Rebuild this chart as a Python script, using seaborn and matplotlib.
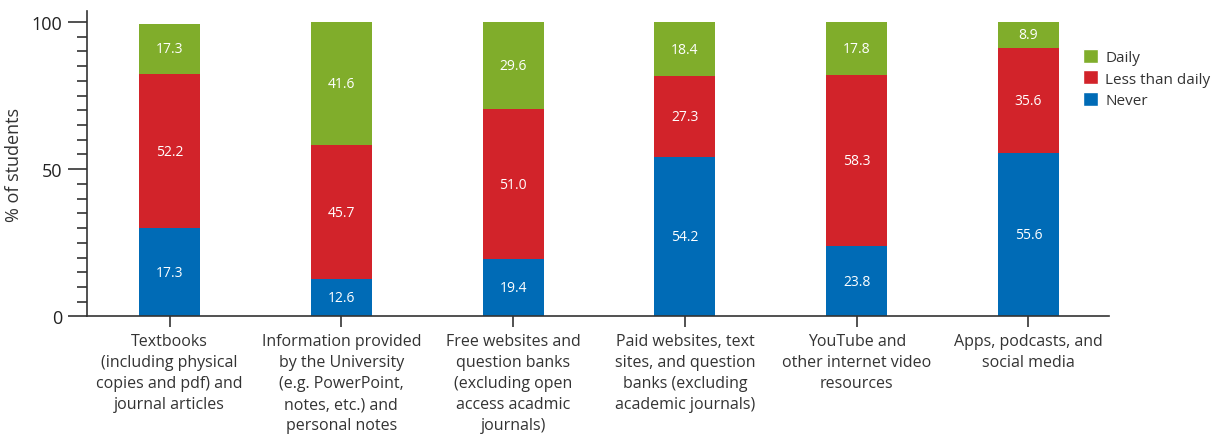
import matplotlib
matplotlib.use("Agg")
import matplotlib.pyplot as plt
from matplotlib.patches import Patch
from matplotlib.ticker import MultipleLocator
import seaborn as sns
import pandas as pd
import numpy as np

categories = [
    "Textbooks\n(including physical\ncopies and pdf) and\njournal articles",
    "Information provided\nby the University\n(e.g. PowerPoint,\nnotes, etc.) and\npersonal notes",
    "Free websites and\nquestion banks\n(excluding open\naccess acadmic\njournals)",
    "Paid websites, text\nsites, and question\nbanks (excluding\nacademic journals)",
    "YouTube and\nother internet video\nresources",
    "Apps, podcasts, and\nsocial media",
]
never_height = [30.0, 12.6, 19.4, 54.2, 23.8, 55.6]
never_label = [17.3, 12.6, 19.4, 54.2, 23.8, 55.6]
less_than_daily = [52.2, 45.7, 51.0, 27.3, 58.3, 35.6]
daily = [17.3, 41.6, 29.6, 18.4, 17.8, 8.9]
series_names = ["Daily", "Less than daily", "Never"]

c_green = "#80ad2b"
c_red = "#d2232a"
c_blue = "#006bb6"

sns.set_theme(style="ticks")
plt.rcParams["font.family"] = ["Open Sans", "DejaVu Sans"]

df = pd.DataFrame({
    "cat": categories,
    "never": never_height,
    "less": less_than_daily,
    "daily": daily,
})
df["cum_less"] = df["never"] + df["less"]
df["cum_daily"] = df["cum_less"] + df["daily"]

fig = plt.figure(figsize=(12.14, 4.39), dpi=100)
ax = fig.add_axes([0.0717, 0.277, 0.842, 0.696])

bw = 0.355
sns.barplot(data=df, x="cat", y="cum_daily", color=c_green, saturation=1, width=bw, ax=ax)
sns.barplot(data=df, x="cat", y="cum_less", color=c_red, saturation=1, width=bw, ax=ax)
sns.barplot(data=df, x="cat", y="never", color=c_blue, saturation=1, width=bw, ax=ax)
for p in ax.patches:
    p.set_linewidth(0)

for i in range(len(categories)):
    nb = df["never"][i]
    cl = df["cum_less"][i]
    ax.text(i, nb / 2, f"{never_label[i]:.1f}", ha="center", va="center", color="white", fontsize=10)
    ax.text(i, nb + less_than_daily[i] / 2, f"{less_than_daily[i]:.1f}", ha="center", va="center", color="white", fontsize=10)
    ax.text(i, cl + daily[i] / 2, f"{daily[i]:.1f}", ha="center", va="center", color="white", fontsize=10)

ax.set_xlim(-0.48, 5.47)
ax.set_ylim(0, 103.8)
ax.set_yticks([0, 50, 100])
ax.yaxis.set_minor_locator(MultipleLocator(5))
ax.tick_params(axis="y", which="major", length=14, width=1.2, color="#333333", labelsize=13, labelcolor="#222222", pad=4)
ax.tick_params(axis="y", which="minor", length=7, width=1.2, color="#333333")
ax.tick_params(axis="x", which="major", length=8, width=1.2, color="#333333", labelsize=11.5, labelcolor="#333333", pad=4)
for s in ["top", "right"]:
    ax.spines[s].set_visible(False)
for s in ["left", "bottom"]:
    ax.spines[s].set_color("#333333")
    ax.spines[s].set_linewidth(1.2)
ax.set_xlabel("")
ax.set_ylabel("% of students", fontsize=13, color="#333333", labelpad=6)
for lab in ax.get_xticklabels():
    lab.set_linespacing(1.42)

handles = [Patch(facecolor=c_green, label=series_names[0]),
           Patch(facecolor=c_red, label=series_names[1]),
           Patch(facecolor=c_blue, label=series_names[2])]
fig.legend(handles=handles, loc="upper left", bbox_to_anchor=(0.892, 0.886), frameon=False,
           fontsize=11, handlelength=1.0, handleheight=1.0, handletextpad=0.45, labelspacing=0.35,
           borderpad=0, borderaxespad=0, labelcolor="#333333")

fig.savefig("out.png", dpi=100)
